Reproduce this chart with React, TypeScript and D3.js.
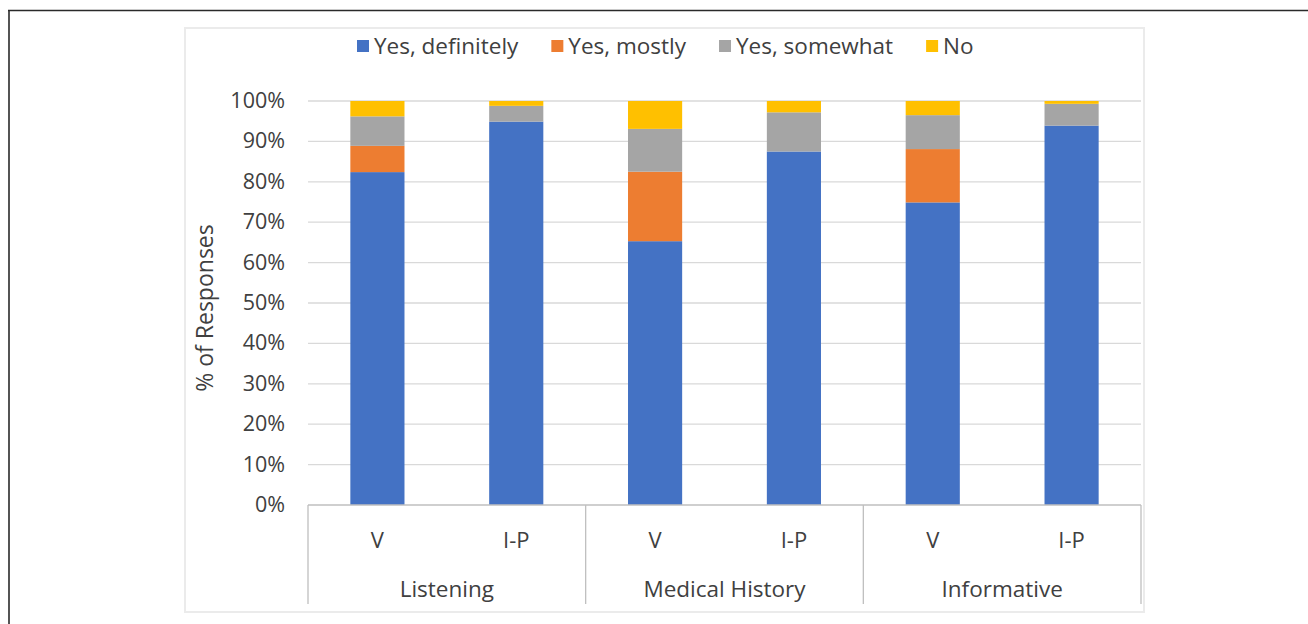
import React, { useEffect, useRef } from "react";
import * as d3 from "d3";

const groups = ["Listening", "Medical History", "Informative"];
const subCats = ["V", "I-P"];
const seriesNames = ["Yes, definitely", "Yes, mostly", "Yes, somewhat", "No"];
const seriesColors = ["#4472C4", "#ED7D31", "#A5A5A5", "#FFC000"];
// values per bar in order: Listening V, Listening I-P, Medical V, Medical I-P, Informative V, Informative I-P
const yesDefinitely = [82.4, 94.9, 65.3, 87.5, 74.9, 93.9];
const yesMostly = [6.5, 0, 17.2, 0, 13.2, 0];
const yesSomewhat = [7.3, 3.9, 10.6, 9.7, 8.4, 5.4];
const no = [3.8, 1.2, 6.9, 2.8, 3.5, 0.7];
const yTicks = [0, 10, 20, 30, 40, 50, 60, 70, 80, 90, 100];

const FONT = "'Open Sans', sans-serif";
const TEXT = "#404040";

export default function App() {
  const ref = useRef<SVGSVGElement | null>(null);

  useEffect(() => {
    const svg = d3.select(ref.current);
    svg.selectAll("*").remove();

    // outer frame
    svg.append("line").attr("x1", 8).attr("x2", 1308).attr("y1", 10.5).attr("y2", 10.5)
      .attr("stroke", "#2a2a2a").attr("stroke-width", 1.6);
    svg.append("line").attr("x1", 9).attr("x2", 9).attr("y1", 10).attr("y2", 624)
      .attr("stroke", "#2a2a2a").attr("stroke-width", 1.6);

    // chart box
    svg.append("rect").attr("x", 185).attr("y", 28).attr("width", 959).attr("height", 584)
      .attr("fill", "#fff").attr("stroke", "#ebebeb").attr("stroke-width", 2);

    const left = 308, right = 1141, top = 101, bottom = 505;
    const barKeys = groups.flatMap(g => subCats.map(s => g + "|" + s));
    const x = d3.scaleBand<string>().domain(barKeys).range([left, right])
      .paddingInner(0.61).paddingOuter(0.305);
    const y = d3.scaleLinear().domain([0, 100]).range([bottom, top]);

    // gridlines
    svg.append("g").selectAll("line").data(yTicks.filter(t => t > 0)).join("line")
      .attr("x1", left).attr("x2", right)
      .attr("y1", d => y(d)).attr("y2", d => y(d))
      .attr("stroke", "#d9d9d9").attr("stroke-width", 1.3);

    // y tick labels
    svg.append("g").selectAll("text").data(yTicks).join("text")
      .attr("x", 285).attr("y", d => y(d) + 7)
      .attr("text-anchor", "end")
      .attr("font-family", FONT).attr("font-size", 21.5).attr("fill", TEXT)
      .text(d => d + "%");

    // y title
    svg.append("text")
      .attr("transform", `translate(213,${(top + bottom) / 2 + 5}) rotate(-90)`)
      .attr("text-anchor", "middle")
      .attr("font-family", FONT).attr("font-size", 23).attr("fill", TEXT)
      .text("% of Responses");

    // stacked bars
    const rows = barKeys.map((k, i) => ({
      key: k,
      s0: yesDefinitely[i], s1: yesMostly[i], s2: yesSomewhat[i], s3: no[i],
    }));
    const stack = d3.stack<any>().keys(["s0", "s1", "s2", "s3"]);
    const layers = stack(rows);
    svg.append("g").selectAll("g").data(layers).join("g")
      .attr("fill", (_d, i) => seriesColors[i])
      .selectAll("rect").data(d => d).join("rect")
      .attr("x", d => x(d.data.key)!)
      .attr("width", x.bandwidth())
      .attr("y", d => y(d[1]))
      .attr("height", d => Math.max(0, y(d[0]) - y(d[1])));

    // category axis
    const axisColor = "#bfbfbf";
    svg.append("line").attr("x1", left).attr("x2", right).attr("y1", bottom).attr("y2", bottom)
      .attr("stroke", axisColor).attr("stroke-width", 1.3);
    const groupW = (right - left) / groups.length;
    const dividers = d3.range(groups.length + 1).map(i => left + i * groupW);
    svg.append("g").selectAll("line").data(dividers).join("line")
      .attr("x1", d => d).attr("x2", d => d).attr("y1", bottom).attr("y2", 604)
      .attr("stroke", axisColor).attr("stroke-width", 1.3);

    svg.append("g").selectAll("text").data(barKeys).join("text")
      .attr("x", d => x(d)! + x.bandwidth() / 2).attr("y", 548)
      .attr("text-anchor", "middle")
      .attr("font-family", FONT).attr("font-size", 22).attr("fill", TEXT)
      .text(d => d.split("|")[1]);

    svg.append("g").selectAll("text").data(groups).join("text")
      .attr("x", (_d, i) => left + (i + 0.5) * groupW).attr("y", 597)
      .attr("text-anchor", "middle")
      .attr("font-family", FONT).attr("font-size", 22.5).attr("fill", TEXT)
      .text(d => d);

    // legend
    const lg = svg.append("g");
    let cx = 357;
    seriesNames.forEach((name, i) => {
      lg.append("rect").attr("x", cx).attr("y", 40).attr("width", 12).attr("height", 12)
        .attr("fill", seriesColors[i]);
      const t = lg.append("text").attr("x", cx + 17).attr("y", 54)
        .attr("font-family", FONT).attr("font-size", 22.5).attr("fill", TEXT)
        .text(name);
      const w = (t.node() as SVGTextElement).getComputedTextLength();
      cx = cx + 17 + w + 33;
    });
  }, []);

  return (
    <svg ref={ref} width={1308} height={624}
      style={{ position: "absolute", left: 0, top: 0, background: "#fff" }} />
  );
}
